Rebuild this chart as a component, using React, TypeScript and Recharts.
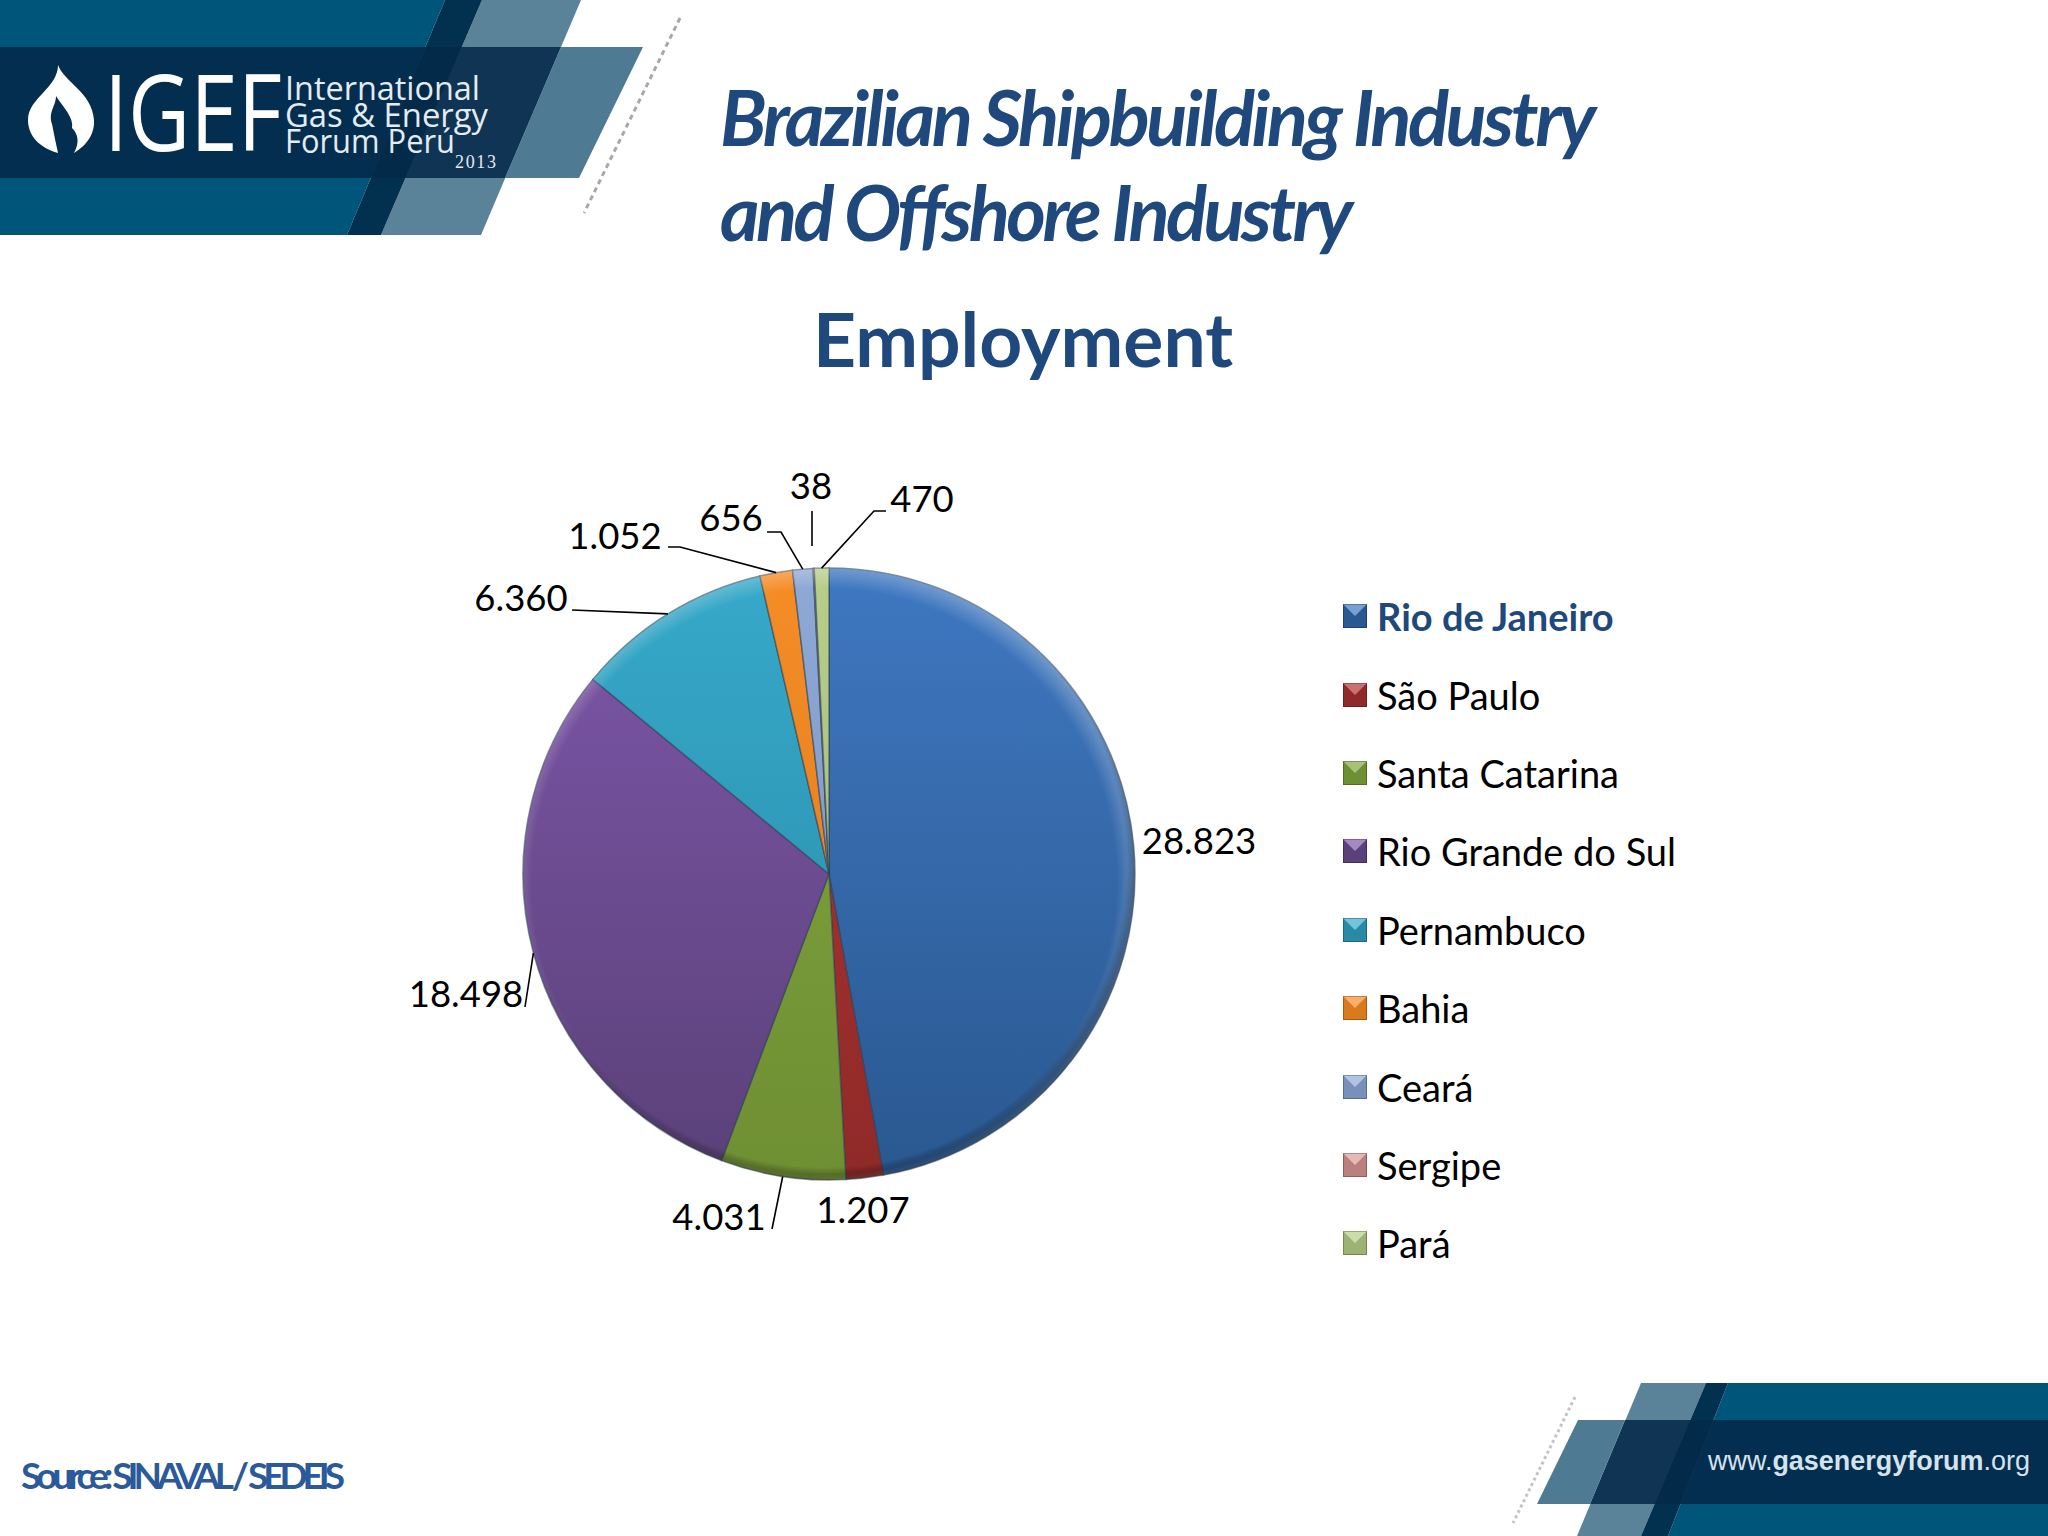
import { PieChart, Pie, Cell, Legend } from "recharts";

const states = ["Rio de Janeiro", "São Paulo", "Santa Catarina", "Rio Grande do Sul", "Pernambuco", "Bahia", "Ceará", "Sergipe", "Pará"];
const employment = [28823, 1207, 4031, 18498, 6360, 1052, 656, 38, 470];
const valueLabels = ["28.823", "1.207", "4.031", "18.498", "6.360", "1.052", "656", "38", "470"];

const topColors = ["#3f78c1", "#b23633", "#83a63e", "#7f57aa", "#37a9ca", "#f58d26", "#8fa9d6", "#dc9a98", "#b7cf88"];
const bottomColors = ["#2a5890", "#8f2a28", "#6f8f33", "#5a4179", "#288aa6", "#d97a1c", "#7890bb", "#bb7f7d", "#9bb373"];

// label centres and leader elbows, relative to the pie centre
const labelOffsets = [[370, -34], [34, 335], [-110, 342], [-363, 119], [-308, -277], [-214, -339], [-98, -357], [-18, -389], [93, -376]];
const leaders: number[][][] = [[], [], [[-57, 355]], [[-304, 133]], [[-257, -264]], [[-149, -327], [-161, -327]], [[-48, -342], [-62, -342]], [[-17, -328], [-17, -363]], [[45, -363], [57, -363]]];
// the Sergipe leader stops short of the pie
const detachedLeader = 7;

const chartData = states.map((name, i) => ({ name, value: employment[i] }));

const CX = 824;
const CY = 869;
const R = 306;
const FONT = "Lato, Carlito, 'Noto Sans', sans-serif";

function renderLabel(props: any) {
  const { cx, cy, index } = props;
  const [dx, dy] = labelOffsets[index];
  return (
    <text x={cx + dx} y={cy + dy} textAnchor="middle" dominantBaseline="central" fontFamily={FONT} fontSize={36.5} fill="#000">
      {valueLabels[index]}
    </text>
  );
}

function renderLeader(props: any) {
  const { points, index, cx, cy } = props;
  const elbows = leaders[index];
  if (!elbows || elbows.length === 0 || !points) return <g />;
  const ox = cx ?? CX;
  const oy = cy ?? CY;
  const pts = elbows.map(([x, y]) => `${ox + x},${oy + y}`);
  if (index !== detachedLeader) pts.unshift(`${points[0].x},${points[0].y}`);
  return <polyline points={pts.join(" ")} fill="none" stroke="#000" strokeWidth={1.6} />;
}

function LegendRows({ payload }: any) {
  const shown = states.filter((s) => (payload ?? []).some((p: any) => p.value === s));
  return (
    <div style={{ fontFamily: FONT, fontSize: 38 }}>
      {shown.map((name, i) => (
        <div key={name} style={{ height: 78.4, display: "flex", alignItems: "center" }}>
          <svg width={24} height={24} style={{ marginRight: 10, flex: "none" }}>
            <rect width={24} height={24} fill={bottomColors[i]} />
            <polygon points="0,0 24,0 12,12" fill={topColors[i]} />
            <polygon points="0,0 24,0 12,12" fill="#fff" opacity={0.3} />
            <rect x={0.5} y={0.5} width={23} height={23} fill="none" stroke="#000" strokeOpacity={0.25} />
          </svg>
          <span style={{ color: i === 0 ? "#1f497d" : "#000", fontWeight: i === 0 ? 700 : 400, whiteSpace: "nowrap" }}>{name}</span>
        </div>
      ))}
    </div>
  );
}

function SlideBackground() {
  return (
    <svg width={2048} height={1536} style={{ position: "absolute", left: 0, top: 0 }}>
      {/* top left banner */}
      <polygon points="0,0 445,0 347,235 0,235" fill="#00557a" />
      <polygon points="482,0 581,0 481,235 381,235" fill="#5a8298" />
      <polygon points="445,0 482,0 381,235 347,235" fill="#02304f" />
      <polygon points="0,47 561,47 505,178 0,178" fill="#04294a" opacity={0.88} />
      <polygon points="561,47 643,47 579,178 505,178" fill="#4f7a93" />
      <line x1={680} y1={18} x2={584} y2={213} stroke="#a8a8a8" strokeWidth={3} strokeDasharray="5 4" />
      {/* bottom right banner */}
      <polygon points="1728,1383 2048,1383 2048,1536 1668,1536" fill="#00557a" />
      <polygon points="1641,1383 1706,1383 1641,1536 1577,1536" fill="#5a8298" />
      <polygon points="1706,1383 1728,1383 1668,1536 1641,1536" fill="#02304f" />
      <polygon points="1625,1420 2048,1420 2048,1504 1590,1504" fill="#04294a" opacity={0.88} />
      <polygon points="1578,1420 1625,1420 1590,1504 1537,1504" fill="#4f7a93" />
      <line x1={1575} y1={1397} x2={1513} y2={1523} stroke="#c4c4c4" strokeWidth={3} strokeDasharray="3 3" />
      <text x={1708} y={1470} fontFamily="'Liberation Sans', sans-serif" fontSize={27} fill="#d5e3ec" textLength={322} lengthAdjust="spacingAndGlyphs">
        www.<tspan fontWeight={700}>gasenergyforum</tspan>.org
      </text>
    </svg>
  );
}

export default function App() {
  return (
    <div style={{ position: "absolute", left: 0, top: 0, width: 2048, height: 1536, background: "#fff", overflow: "hidden" }}>
      <SlideBackground />
      <PieChart width={2048} height={1536} style={{ position: "absolute", left: 0, top: 0 }}>
        <defs>
          {topColors.map((c, i) => (
            <linearGradient key={c} id={`slice${i}`} gradientUnits="userSpaceOnUse" x1={0} y1={CY - R} x2={0} y2={CY + R}>
              <stop offset="0%" stopColor={c} />
              <stop offset="100%" stopColor={bottomColors[i]} />
            </linearGradient>
          ))}
          <radialGradient id="rimLight" gradientUnits="userSpaceOnUse" cx={CX} cy={CY + 12} r={R + 12}>
            <stop offset="92%" stopColor="#fff" stopOpacity={0} />
            <stop offset="100%" stopColor="#fff" stopOpacity={0.32} />
          </radialGradient>
          <radialGradient id="rimDark" gradientUnits="userSpaceOnUse" cx={CX} cy={CY - 4} r={R + 4}>
            <stop offset="97.5%" stopColor="#000" stopOpacity={0} />
            <stop offset="100%" stopColor="#000" stopOpacity={0.25} />
          </radialGradient>
        </defs>
        <Pie
          data={chartData}
          dataKey="value"
          nameKey="name"
          cx={CX}
          cy={CY}
          outerRadius={R}
          startAngle={90}
          endAngle={-270}
          stroke="#2b3f55"
          strokeOpacity={0.55}
          strokeWidth={1.5}
          label={renderLabel}
          labelLine={renderLeader}
          isAnimationActive={false}
        >
          {chartData.map((d, i) => (
            <Cell key={d.name} fill={`url(#slice${i})`} />
          ))}
        </Pie>
        <Pie
          data={chartData}
          dataKey="value"
          nameKey="name"
          cx={CX}
          cy={CY}
          innerRadius={R - 34}
          outerRadius={R}
          startAngle={90}
          endAngle={-270}
          fill="url(#rimLight)"
          stroke="none"
          legendType="none"
          isAnimationActive={false}
        />
        <Pie
          data={chartData}
          dataKey="value"
          nameKey="name"
          cx={CX}
          cy={CY}
          innerRadius={R - 34}
          outerRadius={R}
          startAngle={90}
          endAngle={-270}
          fill="url(#rimDark)"
          stroke="none"
          legendType="none"
          isAnimationActive={false}
        />
        <Legend
          layout="vertical"
          align="right"
          verticalAlign="top"
          content={<LegendRows />}
          wrapperStyle={{ left: 1343, top: 577, right: "auto", width: 420 }}
        />
        <text x={720} y={116} dominantBaseline="central" fontFamily={FONT} fontWeight={700} fontStyle="italic" fontSize={76} fill="#1f497d" textLength={876} lengthAdjust="spacing">
          Brazilian Shipbuilding Industry
        </text>
        <text x={720} y={211} dominantBaseline="central" fontFamily={FONT} fontWeight={700} fontStyle="italic" fontSize={76} fill="#1f497d" textLength={633} lengthAdjust="spacing">
          and Offshore Industry
        </text>
        <text x={1023} y={338} textAnchor="middle" dominantBaseline="central" fontFamily={FONT} fontWeight={700} fontSize={75} fill="#1f497d">
          Employment
        </text>
        <text x={21} y={1474} dominantBaseline="central" fontFamily={FONT} fontWeight={700} fontSize={37} fill="#2a5a9a" textLength={324} lengthAdjust="spacing">
          Source: SINAVAL / SEDEIS
        </text>
        {/* logo */}
        <path d="M58 65 C64 82 92 92 94 120 C95 136 84 147 74 153 C80 142 78 134 72 128 C74 118 64 108 56 96 C56 106 48 112 52 124 C54 134 56 144 58 153 C40 148 28 136 28 120 C28 98 58 88 58 65 Z" fill="#fff" />
        <text x={104} y={151} fontFamily="'Open Sans', sans-serif" fontWeight={400} fontSize={106} fill="#fff" textLength={178} lengthAdjust="spacingAndGlyphs">
          IGEF
        </text>
        <text x={285} y={100} fontFamily="'Open Sans', sans-serif" fontSize={32} fill="#e4ecf1" textLength={195} lengthAdjust="spacingAndGlyphs">
          International
        </text>
        <text x={285} y={127} fontFamily="'Open Sans', sans-serif" fontSize={32} fill="#e4ecf1" textLength={203} lengthAdjust="spacingAndGlyphs">
          Gas &amp; Energy
        </text>
        <text x={285} y={153} fontFamily="'Open Sans', sans-serif" fontSize={32} fill="#e4ecf1" textLength={170} lengthAdjust="spacingAndGlyphs">
          Forum Perú
        </text>
        <text x={455} y={168} fontFamily="'Liberation Serif', serif" fontSize={18} fill="#e4ecf1" textLength={41}>
          2013
        </text>
      </PieChart>
    </div>
  );
}
